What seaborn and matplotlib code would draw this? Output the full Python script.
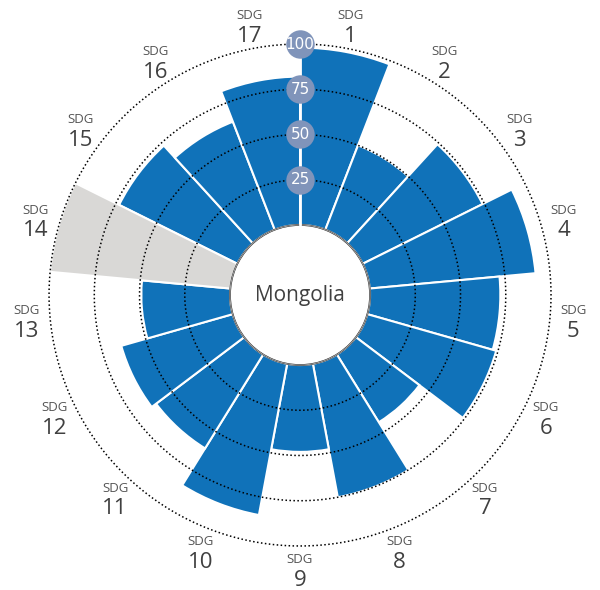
"""
SDG wheel for one country - polar bars of goal scores.
"""

#Libraries
import numpy as np
import pandas as pd
import matplotlib
matplotlib.use("Agg")
import matplotlib.pyplot as plt
import seaborn as sns

#Data
country = "Mongolia"
sdg_goals = list(range(1, 18))
sdg_scores = [98, 50, 74, 92, 72, 74, 44, 75, 48, 85, 61, 64, 49, np.nan, 73, 64, 82]
grid_levels = [25, 50, 75, 100]

#Colours
bar_blue = "#1072b9"
missing_grey = "#d9d8d6"
badge_blue = "#8094ba"
text_grey = "#404040"


sns.set_theme(style="white")
plt.rcParams['font.family'] = ['Open Sans', 'DejaVu Sans']

n = len(sdg_goals)
step = 2 * np.pi / n
df = pd.DataFrame({"sdg": sdg_goals, "score": sdg_scores})
df["theta"] = (df["sdg"] - 0.5) * step
#missing goals are shown as a full grey wedge
df["height"] = df["score"].fillna(100)
df["status"] = np.where(df["score"].isna(), "missing", "scored")

fig = plt.figure(figsize=(6, 5.9), dpi=100)
ax = fig.add_axes([0.0817, 0.0746, 0.8367, 0.8508], projection="polar")
ax.set_theta_zero_location("N")
ax.set_theta_direction(-1)

sns.barplot(data=df, x="theta", y="height", hue="status",
            palette={"scored": bar_blue, "missing": missing_grey},
            native_scale=True, width=1.0, dodge=False, errorbar=None,
            saturation=1, legend=False, edgecolor="white", linewidth=1.5, ax=ax)

ax.set_xlim(0, 2 * np.pi)
ax.set_ylim(0, 100)
ax.set_rorigin(-38.7)
ax.set_xticks([])
ax.set_yticks([])
ax.grid(False)
ax.set_xlabel("")
ax.set_ylabel("")
for sp in ax.spines.values():
    sp.set_visible(False)

#dotted rings on top of the bars
theta_full = np.linspace(0, 2 * np.pi, 721)
for lvl in grid_levels:
    ax.plot(theta_full, np.full_like(theta_full, lvl), color="black",
            ls=(0, (1, 1.6)), lw=1.1, zorder=3, clip_on=False)

#hole outline and the scale spoke
ax.plot(theta_full, np.zeros_like(theta_full), color="#b5b5b5", lw=0.6, zorder=4, clip_on=False)
ax.plot([0, 0], [0, 100], color="white", lw=2, zorder=4, clip_on=False)

ax.scatter(np.zeros(len(grid_levels)), grid_levels, s=420, color=badge_blue,
           zorder=5, clip_on=False, linewidths=0)
for lvl in grid_levels:
    ax.text(0, lvl, str(lvl), color="white", fontsize=11, ha="center", va="center",
            zorder=6, family=["Liberation Sans Narrow", "DejaVu Sans"])

#goal labels round the outside
for g, th in zip(df["sdg"], df["theta"]):
    ax.annotate("SDG", xy=(th, 113), xytext=(0, 7), textcoords="offset points",
                ha="center", va="center", fontsize=9.5, color="#555555", annotation_clip=False)
    ax.annotate(str(g), xy=(th, 113), xytext=(0, -8), textcoords="offset points",
                ha="center", va="center", fontsize=16, color=text_grey, annotation_clip=False)

ax.text(0.5, 0.5, country, transform=ax.transAxes, ha="center", va="center",
        fontsize=15, color=text_grey)

fig.savefig("out.png", dpi=100)
